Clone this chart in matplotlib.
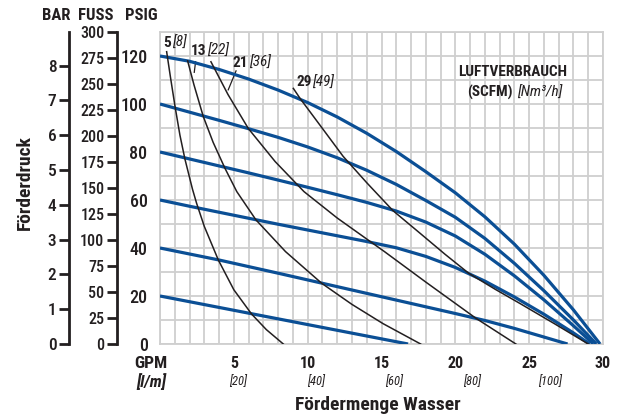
#!/usr/bin/python3
# -*- coding: utf-8 -*-

'''
Pump performance curve: delivery head vs. water flow with air consumption
'''

import matplotlib
matplotlib.use('Agg')
import matplotlib.pyplot as plt

plt.rcParams['font.family'] = ['Roboto Condensed', 'DejaVu Sans']
plt.rcParams['font.stretch'] = 'condensed'

BLUE = '#0b4f95'
INK = '#231f20'
GRID = '#cfcfcf'

# Pressure curves (GPM, PSIG)
B120_GPM = [0, 2, 4, 6, 8, 10, 12, 14, 16, 18, 20, 22, 24, 26, 28, 29.8]
B120_PSI = [120, 117.8, 114.4, 110.4, 105.8, 100.6, 94.6, 87.8, 80.2, 71.8, 63.0, 53.0, 41.6, 28.6, 14.2, 0]
B100_GPM = [0, 2, 4, 6, 8, 10, 12, 14, 16, 18, 20, 22, 24, 26, 28, 29.55]
B100_PSI = [100, 96.6, 93.2, 89.7, 86.1, 82.1, 77.6, 72.4, 66.5, 59.8, 52.8, 44.0, 33.6, 22.2, 10.0, 0]
B80_GPM = [0, 2, 4, 6, 8, 10, 12, 14, 16, 18, 20, 22, 24, 26, 28, 29.35]
B80_PSI = [80, 77.1, 74.2, 71.3, 68.3, 65.3, 62.2, 59.0, 55.4, 50.8, 45.0, 37.4, 28.4, 18.4, 7.6, 0]
B60_GPM = [0, 2, 4, 6, 8, 10, 12, 14, 16, 18, 20, 22, 24, 26, 28, 29.1]
B60_PSI = [60, 57.4, 54.9, 52.4, 49.9, 47.5, 45.1, 42.7, 40.1, 36.5, 31.9, 26.2, 19.6, 12.4, 4.6, 0]
B40_GPM = [0, 4, 8, 12, 16, 20, 22, 24, 26, 27.6]
B40_PSI = [40, 35, 29.5, 23.9, 18.3, 12.7, 9.8, 6.5, 2.9, 0]
B20_GPM = [0, 16.8]
B20_PSI = [20, 0]

# Air consumption curves (GPM, PSIG)
K5_GPM = [0.45, 0.7, 1.02, 1.35, 1.69, 2.2, 2.48, 3.0, 3.95, 5.0, 6.2, 7.2, 8.35]
K5_PSI = [121.8, 111.5, 98.9, 87, 77, 64.5, 58.6, 49, 35, 22.6, 12.5, 6, 0]
K13_GPM = [1.87, 2.3, 2.93, 3.6, 4.4, 5.2, 6.5, 8.5, 10.95, 13, 15.1, 17.65]
K13_PSI = [118, 108, 94.8, 84, 73.2, 63.5, 51.7, 38.5, 25.3, 16.5, 8.5, 0]
K21_GPM = [3.45, 4.6, 5.98, 7.8, 9.75, 12, 14.1, 15.2, 18, 21.4, 24.1]
K21_PSI = [117.6, 104, 89.8, 76, 63.5, 52.5, 43.3, 38.5, 25.8, 10.7, 0]
K29_GPM = [9.03, 9.5, 11.0, 12.4, 14.0, 15.77, 17.6, 19.3, 20.9, 22.7, 24.4, 26.7, 29.0]
K29_PSI = [106.5, 102.2, 89.8, 78.2, 67.2, 55.6, 46.2, 37.4, 29.5, 22.8, 16.8, 8.5, 0]

SCFM = ['5', '13', '21', '29']
NM3H = ['[8]', '[22]', '[36]', '[49]']
LABEL_GPM = [0.75, 3.15, 5.96, 10.27]
LABEL_PSI = [125.4, 122, 117, 109]

GPM_TICKS = [5, 10, 15, 20, 25, 30]
LPM_TICKS = [20, 40, 60, 80, 100]
PSI_TICKS = [0, 20, 40, 60, 80, 100, 120]
FT_TICKS = list(range(0, 301, 25))
BAR_TICKS = list(range(0, 9))

PSI_PER_BAR = 14.5038
FT_PER_PSI = 2.31
L_PER_GAL = 3.785


def main():
    fig = plt.figure(figsize=(6.27, 4.16), dpi=100)
    ax = fig.add_axes([160 / 627, 72 / 416, 443 / 627, 312 / 416])
    ax.set_xlim(0, 30)
    ax.set_ylim(0, 130)

    # grid: 1 GPM by 10 PSIG
    ax.set_xticks(range(0, 31), minor=True)
    ax.set_yticks(range(0, 131, 10), minor=True)
    ax.set_xticks(GPM_TICKS)
    ax.set_yticks(PSI_TICKS)
    ax.grid(which='both', color=GRID, linewidth=1.3)
    ax.set_axisbelow(True)
    for s in ax.spines.values():
        s.set_color(GRID)
        s.set_linewidth(1.3)
    ax.tick_params(which='both', length=0)
    ax.tick_params(axis='x', pad=9, labelsize=11.5, labelcolor=INK)
    ax.tick_params(axis='y', pad=9, labelsize=13, labelcolor=INK)
    for t in ax.get_xticklabels():
        t.set_fontweight('bold')
    for t in ax.get_yticklabels():
        t.set_fontweight('medium')

    # water flow in l/min
    for lpm in LPM_TICKS:
        ax.text(lpm / L_PER_GAL, -0.12, '[%d]' % lpm, transform=ax.get_xaxis_transform(),
                ha='center', va='center', fontsize=9, style='italic', color=INK)
    ax.text(-0.6, -0.063, 'GPM', transform=ax.get_xaxis_transform(),
            ha='center', va='center', fontsize=12.5, fontweight='bold', color=INK)
    ax.text(-0.6, -0.12, '[l/m]', transform=ax.get_xaxis_transform(),
            ha='center', va='center', fontsize=12, fontweight='bold', style='italic', color=INK)

    # feet and bar scales
    ft = ax.secondary_yaxis(-43 / 443, functions=(lambda p: p * FT_PER_PSI, lambda f: f / FT_PER_PSI))
    ft.set_yticks(FT_TICKS)
    bar = ax.secondary_yaxis(-91 / 443, functions=(lambda p: p / PSI_PER_BAR, lambda b: b * PSI_PER_BAR))
    bar.set_yticks(BAR_TICKS)
    for sec, size in ((ft, 11.5), (bar, 12.5)):
        sec.spines['left'].set_linewidth(2)
        sec.spines['left'].set_color(INK)
        sec.tick_params(length=7, width=2, color=INK, labelsize=size, labelcolor=INK, pad=2)
        for t in sec.get_yticklabels():
            t.set_fontweight('medium')

    # curves
    for g, p in [(B20_GPM, B20_PSI), (B40_GPM, B40_PSI), (B60_GPM, B60_PSI),
                 (B80_GPM, B80_PSI), (B100_GPM, B100_PSI), (B120_GPM, B120_PSI)]:
        ax.plot(g, p, color=BLUE, linewidth=2.3, solid_capstyle='butt', zorder=3)
    for g, p in [(K5_GPM, K5_PSI), (K13_GPM, K13_PSI), (K21_GPM, K21_PSI), (K29_GPM, K29_PSI)]:
        ax.plot(g, p, color=INK, linewidth=1.1, zorder=4)

    for s, n, x, y in zip(SCFM, NM3H, LABEL_GPM, LABEL_PSI):
        ax.text(x, y, s, ha='right', va='center', fontsize=11, fontweight='bold', color=INK)
        ax.text(x + 0.05, y, n, ha='left', va='center', fontsize=11, style='italic', color=INK)
    ax.plot([2.41, 2.32], [117.6, 113.2], color=INK, linewidth=0.9)
    ax.plot([5.15, 4.62], [113.8, 105.9], color=INK, linewidth=0.9)

    ax.text(27.6, 113.5, 'LUFTVERBRAUCH', ha='right', va='center',
            fontsize=11, fontweight='bold', color=INK)
    ax.text(23.9, 104.6, '(SCFM)', ha='right', va='center',
            fontsize=11, fontweight='bold', color=INK)
    ax.text(24.2, 104.6, '[Nm³/h]', ha='left', va='center',
            fontsize=11, style='italic', color=INK)

    # headers and axis titles
    for txt, x in [('BAR', 56), ('FUSS', 96), ('PSIG', 141)]:
        fig.text(x / 627, 1 - 16 / 416, txt, ha='center', va='center',
                 fontsize=12, fontweight='bold', color=INK)
    fig.text(25 / 627, 1 - 183 / 416, 'Förderdruck', rotation=90, ha='center', va='center',
             fontsize=14, fontweight='bold', color=INK)
    fig.text(378 / 627, 1 - 405 / 416, 'Fördermenge Wasser', ha='center', va='center',
             fontsize=14, fontweight='bold', color=INK)

    fig.savefig('out.png', dpi=100, facecolor='white')


if __name__ == '__main__':
    main()
